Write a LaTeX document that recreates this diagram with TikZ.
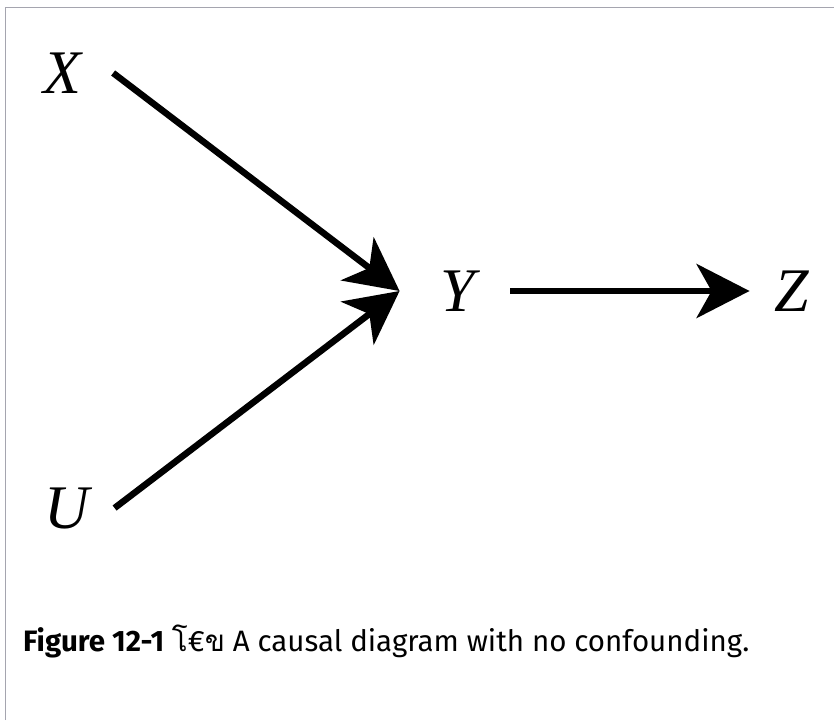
\documentclass[tikz,border=0pt]{standalone}
\usepackage{fontspec}
\setmainfont{Fira Sans}
\newfontfamily\varfont{Liberation Serif}
\newfontfamily\thaifont[Script=Thai]{Loma}
\usetikzlibrary{arrows.meta}

\definecolor{framegray}{RGB}{165,165,175}

\tikzset{
	var/.style = {inner sep=0pt, font=\fontsize{62}{62}\selectfont\varfont\itshape},
	arr/.style = {line width=6.5pt, -{Stealth[length=53pt,width=54pt,inset=15pt]}},
	caption/.style = {anchor=base west, inner sep=0pt, font=\fontsize{29.5}{29.5}\selectfont}
}

\begin{document}
\begin{tikzpicture}[x=1pt,y=-1pt]
	\useasboundingbox (0,0) rectangle (834,720);
	\draw [framegray, line width=1.5pt] (5.5,720) -- (5.5,7.5) -- (834,7.5);
	\node [var] (X) at (62,73) {X};
	\node [var] (U) at (67,508) {U};
	\node [var] (Y) at (458,291) {Y};
	\node [var] (Z) at (792,291) {Z};
	\draw [arr] ([xshift=32pt]X.east) -- ([xshift=-41pt]Y.west);
	\draw [arr] ([xshift=25pt]U.east) -- ([xshift=-41pt]Y.west);
	\draw [arr] ([xshift=35pt]Y.east) -- ([xshift=-25pt]Z.west);
	\node [caption] (cap) at (23,651) {\textbf{Figure 12-1} {\thaifont โ}€{\thaifont ข} A causal diagram with no confounding.};
\end{tikzpicture}
\end{document}
